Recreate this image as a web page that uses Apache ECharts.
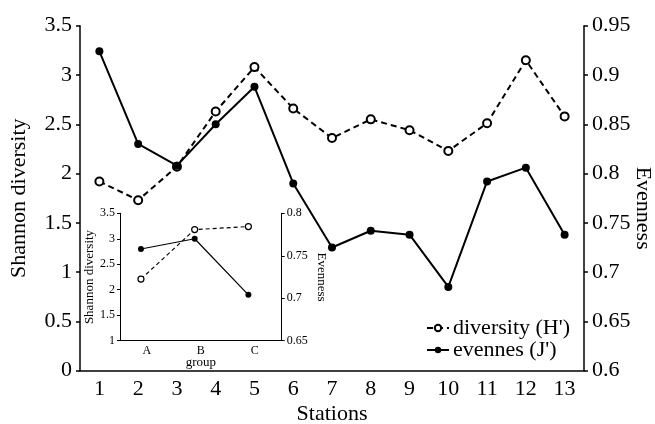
<!DOCTYPE html>
<html>
<head>
<meta charset="utf-8">
<script src="https://cdn.jsdelivr.net/npm/echarts@6/dist/echarts.min.js"></script>
<style>html,body{margin:0;padding:0;background:#fff}#c{width:655px;height:424px}</style>
</head>
<body>
<div id="c"></div>
<script>
var stations = ['1','2','3','4','5','6','7','8','9','10','11','12','13'];
var diversity = [1.92, 1.73, 2.07, 2.63, 3.08, 2.66, 2.36, 2.55, 2.44, 2.23, 2.51, 3.15, 2.58];
var evenness = [0.924, 0.830, 0.808, 0.850, 0.888, 0.790, 0.725, 0.742, 0.738, 0.685, 0.792, 0.806, 0.738];
var groups = ['A','B','C'];
var groupDiversity = [2.21, 3.18, 3.24];
var groupEvenness = [0.758, 0.770, 0.704];

var FONT = 'Liberation Serif';
var chart = echarts.init(document.getElementById('c'), null, {renderer:'canvas'});
var axisLine = {show:true, lineStyle:{color:'#000', width:1.5}};
var insetLine = {show:true, lineStyle:{color:'#000', width:1}};

chart.setOption({
  backgroundColor:'#fff',
  animation:false,
  textStyle:{fontFamily:FONT, color:'#000'},
  grid:[
    {left:80, right:71, top:25.7, bottom:53.3, containLabel:false, outerBoundsMode:'none'},
    {left:120, right:373.3, top:213.3, bottom:83.3, show:true, backgroundColor:'#fff', borderWidth:0, containLabel:false, outerBoundsMode:'none'}
  ],
  legend:{
    orient:'vertical', left:421, top:312, padding:[5,5,5,5], itemWidth:22, itemHeight:8, itemGap:0,
    textStyle:{fontFamily:FONT, fontSize:22, color:'#000', lineHeight:19, padding:[0,0,0,-1]},
    data:['diversity (H\')','evennes (J\')']
  },
  xAxis:[
    {gridIndex:0, type:'category', data:stations, boundaryGap:true,
     axisLine:axisLine, axisTick:{show:false},
     axisLabel:{fontFamily:FONT, fontSize:22, color:'#000', margin:8},
     name:'Stations', nameLocation:'middle', nameGap:33, nameMoveOverlap:false,
     nameTextStyle:{fontFamily:FONT, fontSize:22, color:'#000'}},
    {gridIndex:1, type:'category', data:groups, boundaryGap:true,
     axisLine:insetLine, axisTick:{show:false},
     axisLabel:{fontFamily:FONT, fontSize:12, color:'#000', margin:4},
     name:'group', nameLocation:'middle', nameGap:15, nameMoveOverlap:false,
     nameTextStyle:{fontFamily:FONT, fontSize:13, color:'#000'}},
    {gridIndex:1, type:'value', min:0.61, max:3.62, show:false}
  ],
  yAxis:[
    {gridIndex:0, type:'value', min:0, max:3.5, interval:0.5, position:'left',
     axisLine:axisLine, axisTick:{show:true, length:4, lineStyle:{color:'#000', width:1.5}},
     splitLine:{show:false},
     axisLabel:{fontFamily:FONT, fontSize:22, color:'#000', margin:8},
     name:'Shannon diversity', nameLocation:'middle', nameGap:50, nameRotate:90, nameMoveOverlap:false,
     nameTextStyle:{fontFamily:FONT, fontSize:22, color:'#000'}},
    {gridIndex:0, type:'value', min:0.6, max:0.95, interval:0.05, position:'right',
     axisLine:axisLine, axisTick:{show:true, length:4, lineStyle:{color:'#000', width:1.5}},
     splitLine:{show:false},
     axisLabel:{fontFamily:FONT, fontSize:22, color:'#000', margin:8},
     name:'Evenness', nameLocation:'middle', nameGap:48, nameRotate:-90, nameMoveOverlap:false,
     nameTextStyle:{fontFamily:FONT, fontSize:22, color:'#000', padding:[0,0,0,20]}},
    {gridIndex:1, type:'value', min:1, max:3.5, interval:0.5, position:'left',
     axisLine:insetLine, axisTick:{show:true, length:3, lineStyle:{color:'#000', width:1}},
     splitLine:{show:false},
     axisLabel:{fontFamily:FONT, fontSize:12, color:'#000', margin:5},
     name:'Shannon diversity', nameLocation:'middle', nameGap:24, nameRotate:90, nameMoveOverlap:false,
     nameTextStyle:{fontFamily:FONT, fontSize:13, color:'#000'}},
    {gridIndex:1, type:'value', min:0.65, max:0.8, interval:0.05, position:'right',
     axisLine:insetLine, axisTick:{show:true, length:3, lineStyle:{color:'#000', width:1}},
     splitLine:{show:false},
     axisLabel:{fontFamily:FONT, fontSize:12, color:'#000', margin:5},
     name:'Evenness', nameLocation:'middle', nameGap:33, nameRotate:-90, nameMoveOverlap:false,
     nameTextStyle:{fontFamily:FONT, fontSize:13, color:'#000'}}
  ],
  series:[
    {name:'diversity (H\')', type:'line', xAxisIndex:0, yAxisIndex:0, data:diversity,
     symbol:'circle', symbolSize:8,
     lineStyle:{color:'#000', width:2, type:[6,4]},
     itemStyle:{color:'#fff', borderColor:'#000', borderWidth:2}},
    {name:'evennes (J\')', type:'line', xAxisIndex:0, yAxisIndex:1, data:evenness,
     symbol:'circle', symbolSize:8,
     lineStyle:{color:'#000', width:2},
     itemStyle:{color:'#000', borderColor:'#000', borderWidth:0}},
    {name:'inset diversity', type:'line', xAxisIndex:2, yAxisIndex:2,
     data:groupDiversity.map(function(v,i){return [i+1, v];}),
     symbol:'circle', symbolSize:6,
     lineStyle:{color:'#000', width:1.2, type:[4,3]},
     itemStyle:{color:'#fff', borderColor:'#000', borderWidth:1.2}},
    {name:'inset evenness', type:'line', xAxisIndex:2, yAxisIndex:3,
     data:groupEvenness.map(function(v,i){return [i+1, v];}),
     symbol:'circle', symbolSize:6,
     lineStyle:{color:'#000', width:1.2},
     itemStyle:{color:'#000', borderWidth:0}}
  ]
});
</script>
</body>
</html>
